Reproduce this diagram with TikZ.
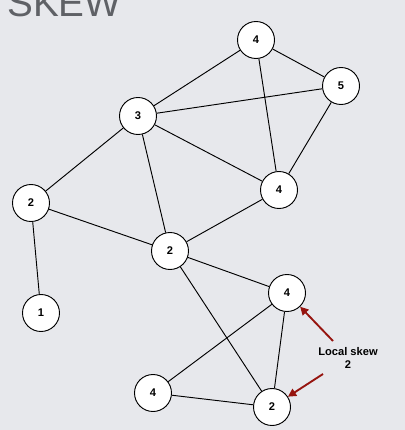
\documentclass[tikz,border=0pt]{standalone}
\usepackage{fontspec}
\setmainfont{Liberation Sans}
\usetikzlibrary{arrows.meta,positioning}
\definecolor{slidebg}{RGB}{231,232,236}
\definecolor{skewred}{RGB}{150,20,15}
\definecolor{titlegray}{RGB}{95,97,102}
\tikzset{
    vertex/.style={
    circle,draw=black,fill=white,line width=0.8pt,minimum size=1.11cm,inner sep=0pt,
    font=\fontsize{9.5}{11}\selectfont\bfseries
    },
    link/.style={
    draw=black,line width=0.8pt
    },
    pointer/.style={
    draw=skewred,line width=1.6pt,-{Triangle[length=7pt,width=7pt]}
    },
}
\begin{document}
\begin{tikzpicture}[x=0.03cm, y=-0.03cm]
   \fill[slidebg] (0,0) rectangle (405,430);
   \useasboundingbox (0,0) rectangle (405,430);
   \clip (0,0) rectangle (405,430);
   \node[anchor=base west,text=titlegray,font=\fontsize{33}{36}\selectfont,inner sep=0pt] (title) at (7,17) {SKEW};

   \node[vertex] (top4) at (256,40) {4};
   \node[vertex] (r5) at (341,86) {5};
   \node[vertex] (c3) at (138,116) {3};
   \node[vertex] (l2) at (31,203) {2};
   \node[vertex] (m4) at (279,190) {4};
   \node[vertex] (mid2) at (170,251) {2};
   \node[vertex] (b1) at (41,313) {1};
   \node[vertex] (h4) at (287,293) {4};
   \node[vertex] (bl4) at (153,393) {4};
   \node[vertex] (br2) at (272,407) {2};

   \path[link]
    (top4) edge (r5)
    (top4) edge (c3)
    (top4) edge (m4)
    (r5) edge (c3)
    (r5) edge (m4)
    (c3) edge (l2)
    (c3) edge (m4)
    (c3) edge (mid2)
    (l2) edge (mid2)
    (l2) edge (b1)
    (m4) edge (mid2)
    (mid2) edge (h4)
    (mid2) edge (br2)
    (h4) edge (bl4)
    (h4) edge (br2)
    (bl4) edge (br2);

   \node[align=center,font=\fontsize{9.5}{11}\selectfont\bfseries] (skew) at (348,358) {Local skew\\2};
   \coordinate (tail1) at (333,341);
   \coordinate (tail2) at (323,374);
   \draw[pointer] (tail1) -- (h4);
   \draw[pointer] (tail2) -- (br2);
\end{tikzpicture}
\end{document}
